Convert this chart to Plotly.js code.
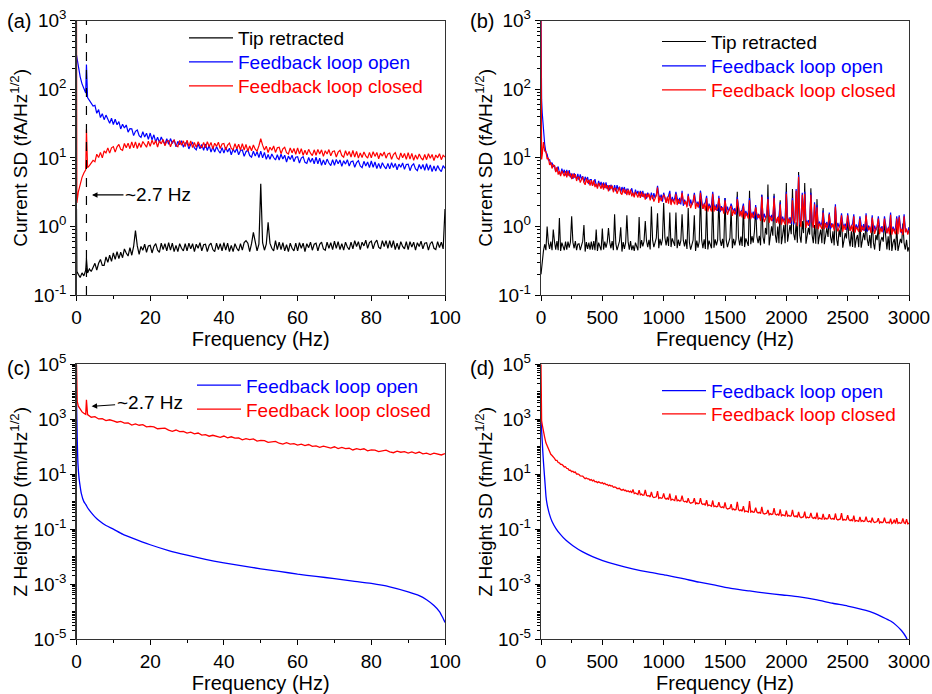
<!DOCTYPE html>
<html><head><meta charset="utf-8">
<script src="https://cdn.plot.ly/plotly-3.0.1.min.js"></script>
<style>html,body{margin:0;padding:0;background:#fff}#chart{width:932px;height:694px}</style>
</head><body><div id="chart"></div>
<script>
// ---------- Panel (a): current SD, 0-100 Hz ----------
const freqA = [0,0.1,0.5,1,1.5,2,2.5,2.7,3,3.5,4,4.5,
5,5.5,6,6.5,7,7.5,8,8.5,9,9.5,10,10.5,11,11.5,12,12.5,13,13.5,14,14.5,15,15.5,16,16.5,17,17.5,18,18.5,19,19.5,
20,20.5,21,21.5,22,22.5,23,23.5,24,24.5,25,25.5,26,26.5,27,27.5,28,28.5,29,29.5,30,30.5,31,31.5,32,32.5,33,33.5,34,34.5,
35,35.5,36,36.5,37,37.5,38,38.5,39,39.5,40,40.5,41,41.5,42,42.5,43,43.5,44,44.5,45,45.5,46,46.5,47,47.5,48,48.5,49,49.5,
50,50.5,51,51.5,52,52.5,53,53.5,54,54.5,55,55.5,56,56.5,57,57.5,58,58.5,59,59.5,60,60.5,61,61.5,62,62.5,63,63.5,64,64.5,
65,65.5,66,66.5,67,67.5,68,68.5,69,69.5,70,70.5,71,71.5,72,72.5,73,73.5,74,74.5,75,75.5,76,76.5,77,77.5,78,78.5,79,79.5,
80,80.5,81,81.5,82,82.5,83,83.5,84,84.5,85,85.5,86,86.5,87,87.5,88,88.5,89,89.5,90,90.5,91,91.5,92,92.5,93,93.5,94,94.5,
95,95.5,96,96.5,97,97.5,98,98.5,99,99.5,100];
const tipRetractedA = [1.8,0.22,0.2,0.18,0.21,0.19,0.23,0.34,0.21,0.24,0.22,0.26,
0.29,0.23,0.29,0.33,0.27,0.27,0.36,0.3,0.38,0.31,
0.41,0.33,0.43,0.34,0.42,0.35,0.47,0.41,0.37,0.49,
0.38,0.51,0.87,0.52,0.39,0.51,0.45,0.55,0.42,0.52,
0.53,0.41,0.51,0.56,0.45,0.42,0.57,0.46,0.56,0.44,
0.58,0.45,0.57,0.43,0.53,0.43,0.56,0.48,0.44,0.56,
0.44,0.57,0.47,0.56,0.43,0.55,0.48,0.58,0.44,0.54,
0.55,0.43,0.53,0.57,0.46,0.43,0.57,0.46,0.56,0.44,
0.58,0.45,0.57,0.43,0.53,0.43,0.56,0.48,0.44,0.56,
0.45,0.58,0.62,0.57,0.43,0.56,0.82,0.6,0.44,0.55,
4.2,0.58,0.45,0.55,1.15,0.57,0.48,0.44,0.62,0.46,
0.59,0.46,0.58,0.44,0.54,0.43,0.57,0.48,0.44,0.57,
0.44,0.58,0.48,0.57,0.43,0.56,0.49,0.59,0.45,0.55,
0.57,0.44,0.55,0.59,0.47,0.45,0.59,0.48,0.58,0.46,
0.61,0.48,0.6,0.46,0.56,0.45,0.59,0.5,0.46,0.59,
0.47,0.62,0.51,0.6,0.46,0.59,0.52,0.63,0.48,0.58,
0.61,0.47,0.58,0.63,0.5,0.47,0.62,0.51,0.62,0.48,
0.62,0.49,0.62,0.46,0.57,0.46,0.6,0.51,0.47,0.6,
0.46,0.6,0.5,0.59,0.45,0.58,0.51,0.61,0.47,0.57,
0.58,0.45,0.56,0.6,0.48,0.46,0.6,0.49,0.59,0.47,
1.8];
const loopOpenA = [316,290,200,152,120,101,88,230,76,69,62,57,
58.2,44.6,50.6,38.7,44.1,36,42,35.5,32,37.8,
30.6,36.6,30.4,33.8,26.4,31,27.2,30.2,23.7,26.7,
26.5,21.1,24.4,25.5,21,19.8,24,20.1,22.9,18.6,
23,18.3,21.7,17,20,16.8,20.1,17.4,15.8,19,
15.8,19.1,16.2,18.3,14.5,17.4,15.6,17.8,14.3,16.5,
16.7,13.5,15.8,16.7,13.9,13.1,16.1,13.6,15.7,12.9,
15.9,12.8,15.3,12.1,14.4,12.2,14.6,12.8,11.7,14.1,
11.7,14.3,12.2,13.8,11.1,13.4,12,13.8,11.1,12.8,
13,10.5,12.3,13,10.8,10.2,12.5,10.6,12.3,10.1,
12.5,10,12,9.5,11.2,9.5,11.4,10.1,9.3,11.1,
9.3,11.3,9.6,10.9,8.7,10.6,9.5,10.9,8.8,10.2,
10.4,8.4,9.9,10.4,8.6,8.3,10.1,8.6,9.9,8.2,
10.2,8.2,9.9,7.8,9.3,7.9,9.6,8.4,7.7,9.4,
7.8,9.5,8.2,9.3,7.5,9.1,8.1,9.4,7.6,8.8,
9,7.3,8.5,9.1,7.6,7.2,8.9,7.6,8.7,7.2,
9,7.3,8.7,7,8.3,7,8.5,7.5,6.9,8.3,
6.9,8.5,7.2,8.3,6.7,8.1,7.3,8.4,6.8,8,
8.1,6.5,7.7,8.2,6.9,6.5,8,6.9,8,6.6,
8.2,6.6,7.9,6.3,7.6,6.4,7.7,6.8,6.3,7.7,
7];
const loopClosedA = [1500,2.2,3.2,4.3,5.2,6.0,6.7,26,7.2,7.7,8.4,9.2,
8.8,11.3,10.1,12,10,12.6,11.8,14,11.7,14,
14.6,12.1,14.5,15.7,13.3,12.9,16.2,14,16.4,13.6,
17.1,14,17.1,13.7,16.5,14.2,17.3,15.4,14.3,17.5,
14.7,18.1,15.6,17.9,14.4,17.7,16,18.5,15,17.5,
17.8,14.5,17.1,18.2,15.3,14.5,17.9,15.3,17.7,14.6,
18.1,14.7,17.6,14.1,16.7,14.2,17.2,15.1,14,16.8,
14,17.2,14.6,16.8,13.5,16.3,14.7,16.9,13.7,15.9,
16.2,13.1,15.4,16.4,13.7,13.1,16.1,13.6,15.8,13,
16.1,13,15.7,12.5,14.9,12.7,15.4,13.4,12.5,15,
19,15.3,13,14.8,11.9,14.3,12.9,14.9,12,14,
14.3,11.5,13.5,14.3,11.9,11.4,14,11.8,13.7,11.3,
14,11.4,13.6,10.9,12.9,11.1,13.3,11.7,10.8,13.1,
10.9,13.3,11.4,13.1,10.5,12.7,11.4,13.2,10.7,12.4,
12.6,10.3,12.1,12.9,10.8,10.2,12.7,10.8,12.4,10.3,
12.8,10.3,12.4,9.9,11.8,10.1,12.2,10.7,9.9,12,
10,12.3,10.5,12,9.7,11.7,10.6,12.2,9.9,11.4,
11.7,9.5,11.2,11.9,10,9.5,11.8,10,11.6,9.5,
11.9,9.6,11.6,9.2,11,9.5,11.4,10,9.3,11.2,
9.4,11.5,9.9,11.2,9.1,11,10,11.5,9.4,10.9,
10.3];

// ---------- Panels (b) and (d): 0-3000 Hz ----------
const freqB = [0,2,5,10,20,30,40,50,60,70,80,90,100,110,120,130,140,150,160,170,180,190,200,
210,220,230,240,250,260,270,280,290,300,310,320,330,340,350,360,370,380,390,400,
410,420,430,440,450,460,470,480,490,500,510,520,530,540,550,560,570,580,590,600,
610,620,630,640,650,660,670,680,690,700,710,720,730,740,750,760,770,780,790,800,
810,820,830,840,850,860,870,880,890,900,910,920,930,940,950,960,970,980,990,1000,
1010,1020,1030,1040,1050,1060,1070,1080,1090,1100,1110,1120,1130,1140,1150,1160,1170,1180,1190,1200,
1210,1220,1230,1240,1250,1260,1270,1280,1290,1300,1310,1320,1330,1340,1350,1360,1370,1380,1390,1400,
1410,1420,1430,1440,1450,1460,1470,1480,1490,1500,1510,1520,1530,1540,1550,1560,1570,1580,1590,1600,
1610,1620,1630,1640,1650,1660,1670,1680,1690,1700,1710,1720,1730,1740,1750,1760,1770,1780,1790,1800,
1810,1820,1830,1840,1850,1860,1870,1880,1890,1900,1910,1920,1930,1940,1950,1960,1970,1980,1990,2000,
2010,2020,2030,2040,2050,2060,2070,2080,2090,2100,2110,2120,2130,2140,2150,2160,2170,2180,2190,2200,
2210,2220,2230,2240,2250,2260,2270,2280,2290,2300,2310,2320,2330,2340,2350,2360,2370,2380,2390,2400,
2410,2420,2430,2440,2450,2460,2470,2480,2490,2500,2510,2520,2530,2540,2550,2560,2570,2580,2590,2600,
2610,2620,2630,2640,2650,2660,2670,2680,2690,2700,2710,2720,2730,2740,2750,2760,2770,2780,2790,2800,
2810,2820,2830,2840,2850,2860,2870,2880,2890,2900,2910,2920,2930,2940,2950,2960,2970,2980,2990,3000];
const tipRetractedB = [0.2,0.22,0.28,
0.35,0.44,0.55,0.45,1.0,0.58,0.47,0.6,0.45,0.9,
0.6,0.46,0.61,0.45,1.33,0.44,0.58,0.49,0.45,0.6,
0.46,0.6,0.49,0.59,1.4,0.59,0.48,0.61,0.45,0.55,
0.56,0.45,0.55,0.61,1.05,0.43,0.59,0.47,0.58,0.46,
0.6,0.46,0.61,0.45,0.9,0.44,0.58,0.49,0.45,0.93,
0.46,0.6,0.49,0.59,0.95,0.59,0.48,0.61,0.45,1.5,
0.56,0.45,0.55,0.61,0.97,0.43,0.59,0.47,0.58,1.45,
0.6,0.46,0.61,0.45,0.53,0.44,0.58,0.49,0.45,1.37,
0.48,0.63,0.51,0.61,1.2,0.62,0.5,0.64,0.46,1.95,
0.63,0.5,0.61,0.68,1.55,0.48,0.66,0.53,0.65,2.2,
0.69,0.53,0.71,0.52,1.6,0.5,0.67,0.57,0.52,1.6,
0.48,0.64,0.52,0.62,1.5,0.63,0.51,0.65,0.47,1.85,
0.58,0.46,0.57,0.63,1.45,0.44,0.62,0.49,0.6,3.3,
0.63,0.48,0.65,0.47,2.2,0.46,0.62,0.52,0.48,2.7,
0.49,0.65,0.53,0.63,2.6,0.64,0.52,0.66,0.48,2.6,
0.63,0.5,0.61,0.68,1.8,0.48,0.66,0.53,0.65,3.2,
0.69,0.53,0.71,0.52,2.0,0.5,0.67,0.57,0.52,3.3,
0.55,0.72,0.58,0.85,1.9,0.71,0.57,0.73,0.53,2.9,
0.7,0.56,0.95,0.76,4.1,0.53,0.74,1.0,0.73,3.0,
0.76,0.58,1.0,0.57,2.4,0.55,0.74,1.05,0.57,4.3,
0.6,0.79,1.05,0.77,3.5,0.78,0.63,1.15,0.58,6.2,
0.73,0.58,1.2,0.8,4.3,0.56,0.78,0.95,0.76,3.6,
0.75,0.57,1.05,0.56,2.5,0.55,0.73,0.9,0.57,1.85,
0.55,0.72,0.95,0.7,1.5,0.71,0.57,0.85,0.53,1.9,
0.65,0.52,0.9,0.7,1.35,0.49,0.68,0.8,0.67,1.3,
0.67,0.51,0.85,0.5,1.2,0.49,0.65,0.75,0.5,1.3,
0.49,0.65,0.8,0.63,1.15,0.64,0.52,0.75,0.48,1.25,
0.58,0.46,0.75,0.63,1.05,0.44,0.62,0.7,0.6,1.15,
0.6,0.46,0.72,0.45,1.2,0.44,0.58,0.66,0.45,1.0,
0.44,0.58,0.66,0.57,1.1,0.57,0.46,0.64,0.43,0.5];
const loopOpenB = [1000,150,70,
45,22,15.8,12.0,11.3,9.3,9.4,8.0,8.5,7.4,
7.8,6.25,7.05,7.45,6.05,5.65,6.95,5.95,6.7,5.55,
6.65,5.5,6.6,5.2,5.9,4.95,5.95,5.35,4.9,5.85,
4.75,5.75,4.85,5.4,4.4,5.3,4.7,5.25,4.15,4.8,
4.8,3.95,4.55,4.9,4.0,3.75,4.6,3.95,4.45,3.7,
4.4,3.65,4.4,3.5,3.95,3.35,4.05,3.65,3.35,4.0,
3.25,4.0,3.4,3.8,3.1,3.75,3.35,3.75,3.0,3.5,
3.5,2.9,3.3,3.6,2.95,2.75,3.45,2.95,3.3,2.8,
3.3,2.75,3.3,2.65,3.0,2.55,3.1,2.8,2.55,3.1,
2.5,3.05,2.6,2.9,3.9,2.9,2.6,2.9,2.3,3.1,
2.7,2.25,2.6,2.8,3.3,2.15,2.7,2.3,2.6,3.2,
2.6,2.15,2.6,2.1,3.3,2.0,2.45,2.2,2.0,3.0,
2.0,2.45,2.05,2.3,3.1,2.35,2.05,2.3,1.85,3.3,
2.15,1.8,2.1,2.25,2.8,1.75,2.15,1.85,2.1,3.2,
2.1,1.75,2.1,1.68,2.8,1.62,1.97,1.77,1.63,2.6,
1.6,1.95,1.66,1.85,2.15,1.86,1.64,1.84,1.48,2.7,
1.72,1.42,1.64,1.77,2.15,1.36,1.68,1.43,1.62,2.6,
1.63,1.35,1.64,1.3,2.05,1.26,1.53,1.38,1.27,2.9,
1.26,1.53,1.32,1.46,2.7,1.47,1.3,1.47,1.19,2.8,
1.38,1.15,1.33,1.43,2.25,1.11,1.39,1.19,1.34,3.2,
1.35,1.12,1.37,1.09,2.6,1.06,1.29,3.5,1.07,5.6,
1.06,1.3,3.1,1.23,3.2,1.24,1.1,1.24,1.0,3.1,
1.17,0.97,2.25,1.21,2.05,0.95,1.18,1.02,1.14,1.7,
1.16,0.97,1.16,0.94,1.6,0.91,1.11,1.01,0.93,2.1,
0.93,1.13,0.97,1.09,1.55,1.1,0.98,1.1,0.89,1.55,
1.05,0.87,1.01,1.1,1.5,0.85,1.07,0.92,1.05,1.4,
1.06,0.88,1.08,0.86,1.55,0.84,1.03,0.91,0.85,1.45,
0.85,1.03,0.88,0.99,1.4,1.0,0.89,1.01,0.82,1.4,
0.96,0.8,0.93,1.01,1.6,0.79,0.99,0.85,0.96,1.4,
0.98,1.45,1.0,0.8,0.91,1.5,0.95,0.86,0.8,0.98];
const loopClosedB = [1000,40,9.5,
11,17,12.6,12.4,9.6,10,7.9,8.6,7.0,7.9,
7.7,6.2,7.3,5.7,6.4,5.4,6.5,5.8,5.4,6.4,
5.2,6.4,5.4,5.9,4.9,5.9,5.1,5.8,4.6,5.25,
5.25,4.35,4.95,5.3,4.35,4.05,5.0,4.3,4.75,3.95,
4.75,3.9,4.7,3.75,4.2,3.55,4.3,3.85,3.55,4.25,
3.45,4.2,3.6,4.0,3.25,4.0,3.5,3.95,3.15,3.6,
3.6,3.0,3.45,3.75,3.05,2.9,3.55,3.05,3.45,2.85,
3.45,2.85,3.45,2.75,3.1,2.65,3.2,2.9,2.65,3.2,
2.6,3.2,2.7,3.0,2.45,3.0,2.65,3.0,2.4,2.8,
2.8,2.3,2.65,2.85,3.7,2.2,2.75,2.35,2.65,2.9,
2.65,2.2,2.7,2.15,3.0,2.05,2.5,2.25,2.1,3.0,
2.05,2.5,2.15,2.4,3.1,2.4,2.1,2.35,1.9,2.8,
2.2,1.85,2.1,2.3,2.9,1.8,2.2,1.9,2.15,3.1,
2.15,1.8,2.15,1.7,2.6,1.65,2.0,1.8,1.65,3.0,
1.65,2.0,1.7,1.9,2.6,1.9,1.7,1.9,1.53,2.4,
1.78,1.48,1.7,1.82,2.0,1.42,1.75,1.5,1.68,2.5,
1.7,1.4,1.69,1.35,2.0,1.29,1.58,1.41,1.3,2.4,
1.28,1.57,1.33,1.49,1.9,1.5,1.32,1.49,1.2,2.7,
1.39,1.16,1.34,1.44,2.5,1.13,1.4,1.2,1.36,2.6,
1.36,1.13,1.38,1.1,2.1,1.06,1.3,1.17,1.07,3.0,
1.06,1.3,1.11,1.24,2.4,1.25,1.11,3.3,1.01,5.3,
1.17,0.98,2.9,1.22,3.0,0.95,1.18,1.02,1.14,2.9,
1.16,0.96,2.1,0.93,1.9,0.91,1.1,1.0,0.92,1.6,
0.91,1.12,0.95,1.07,1.5,1.08,0.96,1.09,0.87,1.95,
1.03,0.85,0.99,1.08,1.45,0.84,1.05,0.89,1.02,1.45,
1.03,0.86,1.04,0.84,1.4,0.81,0.99,0.9,0.84,1.3,
0.83,1.02,0.87,0.97,1.45,0.99,0.88,0.99,0.8,1.35,
0.94,0.78,0.91,0.99,1.3,0.77,0.96,0.83,0.94,1.3,
0.96,0.79,0.96,0.77,1.48,0.76,0.93,0.83,0.77,1.3,
0.77,1.38,0.82,0.92,0.75,1.4,0.82,0.93,0.76,0.88];

// ---------- Panel (c): Z height SD, 0-100 Hz ----------
const freqOpenC = [0,0.1,0.2,0.4,0.7,1,1.3,2,2.5,3,4,5,6,8,10,12.5,15,20,25,30,35,40,45,50,55,60,65,70,75,80,85,90,93,95,97,98.5,99.5,100];
const zOpenC = [5000,1000,200,24,7,3.5,2,1.0,0.8,0.6,0.4,0.28,0.21,0.135,0.1,0.066,0.048,0.027,0.0166,0.0112,
0.0079,0.0059,0.0046,0.0036,0.0029,0.0023,0.0019,0.00158,0.00129,0.00105,0.00079,0.00052,0.00038,0.00027,0.000166,0.0001,0.000056,0.00004];
const freqClosedC = [0,0.2,0.5,1,1.5,2,2.5,2.7,3,4,5,6,7,8,9,10,11,12,13,14,15,16,17,18,19,20,21,22,23,24,25,26,27,28,29,30,
31,32,33,34,35,36,37,38,39,40,41,42,43,44,45,46,47,48,49,50,51,52,53,54,55,56,57,58,59,60,61,62,63,64,65,66,67,68,69,70,
71,72,73,74,75,76,77,78,79,80,81,82,83,84,85,86,87,88,89,90,91,92,93,94,95,96,97,98,99,100];
const zClosedC = [100000,4500,3000,2200,1850,1650,1500,5100,
1484,1181,1242,1026,1040,893,956,870,
779,835,725,733,616,672,604,638,526,553,
530,451,467,475,403,364,405,357,364,314,
337,293,315,266,275,241,261,240,220,245,
211,230,204,209,179,198,181,193,161,171,
166,144,152,157,134,124,140,125,130,114,
124,109,120,103,107,95,105,97.5,89,99.5,
86,95,85,88,76,85,78,84,71,76,
75,66,71,74.5,65,60.5,69,63,66,59,
65,57.5,64,55,58,52,58,54,50,56];

// ---------- Panel (d): Z height SD, 0-3000 Hz ----------
const freqOpenD = [0,5,10,15,20,27,35,41,50,68,90,122,160,204,260,340,420,503,620,747,880,1019,1150,1290,1420,1562,1700,1834,1970,2106,2240,2378,2500,2649,2720,2785,2850,2894,2940,2976,3000];
const zOpenD = [1000,400,160,63,28,10.5,3.5,1.5,0.8,0.36,0.19,0.105,0.063,0.039,0.025,0.0148,0.01,0.0072,0.005,0.0036,
0.0027,0.0021,0.0016,0.00117,0.00091,0.00068,0.00056,0.00047,0.0004,0.00034,0.00027,0.0002,0.000158,0.00011,0.000085,0.000063,0.000045,0.000032,0.00002,0.0000117,0.0000063];
const zClosedD = [100000,1300,900,
640,310,220,138,109,77,66,53,48,40,
37.4,32,31.8,26.6,26,22.6,22.6,20.6,18.2,18.7,
16.1,15.9,13.8,13.9,12.3,12.8,11.6,11.9,10.1,10.2,
9.7,8.6,8.6,8.5,7.6,6.9,7.3,6.7,6.7,6.05,
6.35,5.7,6.05,5.28,5.45,4.94,5.25,5.0,4.65,4.97,
4.43,4.64,4.18,4.24,3.78,4.0,3.68,3.81,3.33,3.46,
3.34,3.0,3.05,3.07,2.74,2.59,2.8,2.55,2.59,2.35,
2.49,2.25,2.4,2.09,2.8,1.96,2.08,1.99,1.83,2.6,
1.77,1.88,1.72,1.76,2.7,1.71,1.59,1.67,1.48,2.27,
1.52,1.4,1.46,1.5,2.4,1.31,1.42,1.32,1.38,1.98,
1.35,1.24,1.34,1.18,1.95,1.13,1.22,1.17,1.09,1.68,
1.07,1.14,1.05,1.08,1.65,1.06,0.99,1.04,0.93,1.34,
0.96,0.88,0.93,0.95,1.34,0.83,0.9,0.84,0.87,1.33,
0.85,0.79,0.84,0.74,1.14,0.71,0.76,0.73,0.68,1.1,
0.66,0.7,0.65,0.67,0.96,0.66,0.61,0.65,0.58,0.94,
0.59,0.54,0.57,0.58,0.81,0.5,0.55,0.5,0.52,0.99,
0.51,0.47,0.5,0.45,0.69,0.43,0.46,0.45,0.42,1.04,
0.42,0.45,0.41,0.42,0.61,0.42,0.39,0.41,0.37,0.65,
0.384,0.353,0.372,0.382,0.5,0.335,0.366,0.342,0.356,0.58,
0.354,0.327,0.354,0.314,0.52,0.306,0.332,0.322,0.303,0.47,
0.297,0.318,0.294,0.306,0.5,0.303,0.285,0.302,0.271,0.42,
0.282,0.26,0.275,0.284,0.43,0.25,0.275,0.257,0.268,0.39,
0.266,0.246,0.267,0.238,0.4,0.231,0.252,0.246,0.233,0.36,
0.233,0.251,0.233,0.243,0.35,0.243,0.231,0.246,0.222,0.37,
0.233,0.216,0.227,0.235,0.38,0.207,0.228,0.213,0.221,0.32,
0.22,0.204,0.22,0.196,0.31,0.191,0.208,0.202,0.191,0.28,
0.191,0.205,0.19,0.198,0.285,0.196,0.185,0.197,0.178,0.26,
0.187,0.173,0.183,0.189,0.25,0.167,0.184,0.172,0.18,0.26,
0.18,0.167,0.181,0.162,0.24,0.158,0.173,0.22,0.16,0.25,
0.161,0.174,0.162,0.17,0.246,0.171,0.161,0.23,0.156,0.165];

// ---------- labels / ticks ----------
const seriesNames = ['Tip retracted','Feedback loop open','Feedback loop closed'];
const panelLabels = ['(a)','(b)','(c)','(d)'];
const xTitle = 'Frequency (Hz)';
const yTitleCurrent = 'Current SD (fA/Hz<sup>1/2</sup>)';
const yTitleZ = 'Z Height SD (fm/Hz<sup>1/2</sup>)';
const tickValsTop = [0.1,1,10,100,1000];
const tickTextTop = ['10<sup>-1</sup>','10<sup>0</sup>','10<sup>1</sup>','10<sup>2</sup>','10<sup>3</sup>'];
const tickValsBottom = [1e-5,1e-3,1e-1,10,1000,1e5];
const tickTextBottom = ['10<sup>-5</sup>','10<sup>-3</sup>','10<sup>-1</sup>','10<sup>1</sup>','10<sup>3</sup>','10<sup>5</sup>'];
const resonanceLabel = '~2.7 Hz';
const resonanceFreq = 2.7;

const FONT = 'Liberation Sans, Arial, Helvetica, sans-serif';
const BLACK = '#000000', BLUE = '#0000ff', RED = '#ff0000';

function minorLogTicks(lo, hi, majors) {
  const out = [];
  for (let d = lo; d < hi; d++) for (let k = 1; k <= 9; k++) {
    const v = k * Math.pow(10, d);
    if (!majors.some(m => Math.abs(m - v) / m < 1e-6)) out.push(v);
  }
  return out;
}

const domXL = [76.5/932, 445/932], domXR = [541/932, 909/932];
const domYT = [1 - 295/694, 1 - 20.7/694], domYB = [1 - 639/694, 1 - 364.3/694];

function xAxis(domain, range, dtick, minorD, anchor) {
  return {domain, range, anchor, tickmode:'linear', tick0:0, dtick, ticks:'outside', ticklen:5, tickwidth:1, tickcolor:'#000',
    minor:{ticks:'outside', tick0:0, dtick:minorD, ticklen:3, tickwidth:1, tickcolor:'#000'},
    showline:true, mirror:true, linecolor:'#333', linewidth:1.2, showgrid:false, zeroline:false,
    tickfont:{family:FONT, size:19, color:'#000'},
    title:{text:xTitle, font:{family:FONT, size:20, color:'#000'}, standoff:2}};
}
function yAxis(domain, range, tv, tt, minorVals, anchor, title) {
  return {type:'log', domain, range, anchor, tickmode:'array', tickvals:tv, ticktext:tt, ticks:'outside', ticklen:5, tickwidth:1, tickcolor:'#000',
    minor:{tickmode:'array', tickvals:minorVals, ticks:'outside', ticklen:3, tickwidth:1, tickcolor:'#000'},
    showline:true, mirror:true, linecolor:'#333', linewidth:1.2, showgrid:false, zeroline:false,
    tickfont:{family:FONT, size:19, color:'#000'},
    title:{text:title, font:{family:FONT, size:19, color:'#000'}, standoff:0}};
}

function line(x, y, color, name, xa, ya, legend, width, shape) {
  const ln = {color, width};
  if (shape) { ln.shape = shape; ln.smoothing = 0.6; }
  return {type:'scatter', mode:'lines', x, y, name, xaxis:xa, yaxis:ya, legend, line:ln, hoverinfo:'skip'};
}

const data = [
  line(freqA, tipRetractedA, BLACK, seriesNames[0], 'x', 'y', 'legend', 1.2),
  line(freqA, loopOpenA, BLUE, seriesNames[1], 'x', 'y', 'legend2', 1.2),
  line(freqA, loopClosedA, RED, seriesNames[2], 'x', 'y', 'legend3', 1.2),
  line(freqB, tipRetractedB, BLACK, seriesNames[0], 'x2', 'y2', 'legend4', 1.1),
  line(freqB, loopOpenB, BLUE, seriesNames[1], 'x2', 'y2', 'legend5', 1.2),
  line(freqB, loopClosedB, RED, seriesNames[2], 'x2', 'y2', 'legend6', 1.2),
  line(freqOpenC, zOpenC, BLUE, seriesNames[1], 'x3', 'y3', 'legend7', 1.3, 'spline'),
  line(freqClosedC, zClosedC, RED, seriesNames[2], 'x3', 'y3', 'legend8', 1.3),
  line(freqOpenD, zOpenD, BLUE, seriesNames[1], 'x4', 'y4', 'legend9', 1.3, 'spline'),
  line(freqB, zClosedD, RED, seriesNames[2], 'x4', 'y4', 'legend10', 1.3)
];

function leg(xpx, ypx, color) {
  return {x:xpx/932, y:1 - ypx/694, xanchor:'left', yanchor:'middle', bgcolor:'rgba(0,0,0,0)', borderwidth:0,
    itemwidth:44, tracegroupgap:0, font:{family:FONT, size:19, color}};
}

const minorTop = minorLogTicks(-1, 3, tickValsTop);
const minorBottom = minorLogTicks(-5, 5, tickValsBottom);

function panelLabel(text, xpx, ypx) {
  return {text, xref:'paper', yref:'paper', x:xpx/932, y:1 - ypx/694, xanchor:'left', yanchor:'middle', showarrow:false,
    font:{family:FONT, size:20, color:'#000'}};
}

const layout = {
  width:932, height:694, margin:{l:0, r:0, t:0, b:0}, paper_bgcolor:'#fff', plot_bgcolor:'#fff',
  showlegend:true, hovermode:false,
  xaxis: xAxis(domXL, [0,100], 20, 10, 'y'),
  yaxis: yAxis(domYT, [-1,3], tickValsTop, tickTextTop, minorTop, 'x', yTitleCurrent),
  xaxis2: xAxis(domXR, [0,3000], 500, 250, 'y2'),
  yaxis2: yAxis(domYT, [-1,3], tickValsTop, tickTextTop, minorTop, 'x2', yTitleCurrent),
  xaxis3: xAxis(domXL, [0,100], 20, 10, 'y3'),
  yaxis3: yAxis(domYB, [-5,5], tickValsBottom, tickTextBottom, minorBottom, 'x3', yTitleZ),
  xaxis4: xAxis(domXR, [0,3000], 500, 250, 'y4'),
  yaxis4: yAxis(domYB, [-5,5], tickValsBottom, tickTextBottom, minorBottom, 'x4', yTitleZ),
  legend: leg(184, 38, BLACK), legend2: leg(184, 62, BLUE), legend3: leg(184, 86, RED),
  legend4: leg(657, 41.7, BLACK), legend5: leg(657, 66, BLUE), legend6: leg(657, 90, RED),
  legend7: leg(192, 385.3, BLUE), legend8: leg(192, 409.3, RED),
  legend9: leg(657, 390.7, BLUE), legend10: leg(657, 414, RED),
  shapes:[{type:'line', xref:'x', yref:'y domain', x0:resonanceFreq, x1:resonanceFreq, y0:0, y1:1,
    line:{color:'#000', width:1.2, dash:'dash'}}],
  annotations:[
    panelLabel(panelLabels[0], 5, 21), panelLabel(panelLabels[1], 468, 21),
    panelLabel(panelLabels[2], 5, 368), panelLabel(panelLabels[3], 468, 368),
    {text:resonanceLabel, xref:'x', yref:'y', x:4.2, y:0.46, ax:66, ay:0, showarrow:true, arrowhead:2, arrowsize:1, arrowwidth:1.1,
      arrowcolor:'#000', standoff:0, font:{family:FONT, size:19, color:'#000'}},
    {text:resonanceLabel, xref:'x3', yref:'y3', x:4.1, y:3.47, ax:58, ay:-4, showarrow:true, arrowhead:2, arrowsize:1, arrowwidth:1.1,
      arrowcolor:'#000', standoff:0, font:{family:FONT, size:19, color:'#000'}}
  ]
};

Plotly.newPlot('chart', data, layout, {staticPlot:true, displayModeBar:false});
</script></body></html>
